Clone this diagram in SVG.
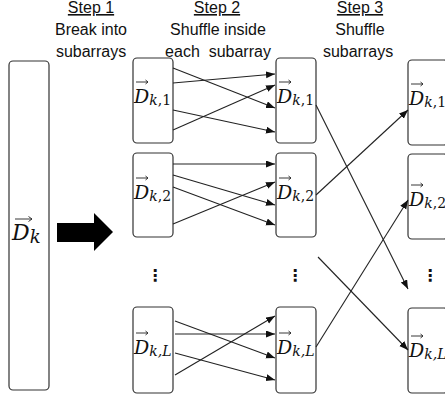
<svg xmlns="http://www.w3.org/2000/svg" width="445" height="398" viewBox="0 0 445 398">
<style>
.box{fill:#fff;stroke:#333;stroke-width:1.2}
.hd{font-family:"Liberation Sans",Arial,sans-serif;font-size:16px;fill:#111;text-anchor:middle;white-space:pre}
.ul{text-decoration:underline}
.m{font-family:"DejaVu Serif","Liberation Serif",serif;font-style:italic;font-size:19px;fill:#111}
.big{font-size:22px}
.s{font-size:14px}
.u{font-style:normal}
.c line{stroke:#222;stroke-width:1.1;marker-end:url(#ah)}
.va{stroke:#222;stroke-width:0.9;fill:none}
.dots{font-family:"DejaVu Sans",sans-serif;font-size:16px;font-weight:bold;fill:#111;text-anchor:middle}
</style>
<defs>
<marker id="ah" markerUnits="userSpaceOnUse" markerWidth="10" markerHeight="8" refX="9" refY="3.5" orient="auto">
<path d="M0,0 L9,3.5 L0,7 z" fill="#111"/>
</marker>
</defs>

<g id="headers">
<text class="hd ul" x="91" y="13">Step 1</text>
<text class="hd" x="91" y="35">Break into</text>
<text class="hd" x="91" y="57">subarrays</text>
<text class="hd ul" x="217" y="13">Step 2</text>
<text class="hd" x="218" y="35">Shuffle inside</text>
<text class="hd" x="218" y="57">each  subarray</text>
<text class="hd ul" x="360" y="13">Step 3</text>
<text class="hd" x="360" y="35">Shuffle</text>
<text class="hd" x="358" y="57">subarrays</text>
</g>

<g id="dk">
<rect class="box" x="9" y="61" width="40" height="329" rx="4"/>
<text class="m big" x="12" y="240">D<tspan font-size="18px" dy="3">k</tspan></text>
<path class="va" d="M15 219 H32 M28.5 216.5 L32 219 L28.5 221.5"/>
</g>

<g id="bigarrow">
<polygon points="57,223 94,223 94,213 113,232 94,251 94,242 57,242" fill="#000"/>
</g>

<g id="s2l1">
<rect class="box" x="133" y="58" width="40" height="85" rx="4"/>
<text class="m" x="134" y="103">D<tspan class="s" dy="2">k</tspan><tspan class="s u">,1</tspan></text>
<path class="va" d="M136 82 H148 M145.5 80 L148 82 L145.5 84"/>
</g>
<g id="s2l2">
<rect class="box" x="133" y="153" width="40" height="84" rx="4"/>
<text class="m" x="134" y="199">D<tspan class="s" dy="2">k</tspan><tspan class="s u">,2</tspan></text>
<path class="va" d="M136 178 H148 M145.5 176 L148 178 L145.5 180"/>
</g>
<g id="s2lL">
<rect class="box" x="133" y="307" width="40" height="86" rx="4"/>
<text class="m" x="134" y="354">D<tspan class="s" dy="2">k,L</tspan></text>
<path class="va" d="M136 333 H148 M145.5 331 L148 333 L145.5 335"/>
</g>
<g id="s2ldots"><text class="dots" x="155" y="281">⋮</text></g>

<g id="s2r1">
<rect class="box" x="276" y="58" width="40" height="85" rx="4"/>
<text class="m" x="277" y="103">D<tspan class="s" dy="2">k</tspan><tspan class="s u">,1</tspan></text>
<path class="va" d="M279 82 H291 M288.5 80 L291 82 L288.5 84"/>
</g>
<g id="s2r2">
<rect class="box" x="276" y="153" width="40" height="84" rx="4"/>
<text class="m" x="277" y="199">D<tspan class="s" dy="2">k</tspan><tspan class="s u">,2</tspan></text>
<path class="va" d="M279 178 H291 M288.5 176 L291 178 L288.5 180"/>
</g>
<g id="s2rL">
<rect class="box" x="276" y="307" width="40" height="86" rx="4"/>
<text class="m" x="277" y="354">D<tspan class="s" dy="2">k,L</tspan></text>
<path class="va" d="M279 333 H291 M288.5 331 L291 333 L288.5 335"/>
</g>
<g id="s2rdots"><text class="dots" x="295" y="281">⋮</text></g>

<g id="s3r1">
<rect class="box" x="408" y="60" width="40" height="85" rx="4"/>
<text class="m" x="409" y="105">D<tspan class="s" dy="2">k</tspan><tspan class="s u">,1</tspan></text>
<path class="va" d="M411 84 H423 M420.5 82 L423 84 L420.5 86"/>
</g>
<g id="s3r2">
<rect class="box" x="408" y="154" width="40" height="85" rx="4"/>
<text class="m" x="409" y="206">D<tspan class="s" dy="2">k</tspan><tspan class="s u">,2</tspan></text>
<path class="va" d="M411 185 H423 M420.5 183 L423 185 L420.5 187"/>
</g>
<g id="s3rL">
<rect class="box" x="408" y="308" width="40" height="85" rx="4"/>
<text class="m" x="409" y="357">D<tspan class="s" dy="2">k,L</tspan></text>
<path class="va" d="M411 336 H423 M420.5 334 L423 336 L420.5 338"/>
</g>
<g id="s3dots"><text class="dots" x="430" y="281">⋮</text></g>

<g id="connectors" class="c">
<line x1="173" y1="68" x2="275" y2="108"/>
<line x1="173" y1="83" x2="275" y2="74"/>
<line x1="173" y1="110" x2="275" y2="132"/>
<line x1="173" y1="130" x2="275" y2="85"/>
<line x1="173" y1="164" x2="275" y2="164"/>
<line x1="173" y1="175" x2="275" y2="205"/>
<line x1="173" y1="187" x2="275" y2="225"/>
<line x1="173" y1="224" x2="275" y2="182"/>
<line x1="175" y1="321" x2="275" y2="358"/>
<line x1="175" y1="334" x2="275" y2="334"/>
<line x1="175" y1="353" x2="275" y2="380"/>
<line x1="175" y1="375" x2="275" y2="316"/>
<line x1="316" y1="105" x2="408" y2="289"/>
<line x1="316" y1="195" x2="408" y2="110"/>
<line x1="318" y1="257" x2="408" y2="350"/>
<line x1="316" y1="347" x2="408" y2="200"/>
</g>
</svg>
